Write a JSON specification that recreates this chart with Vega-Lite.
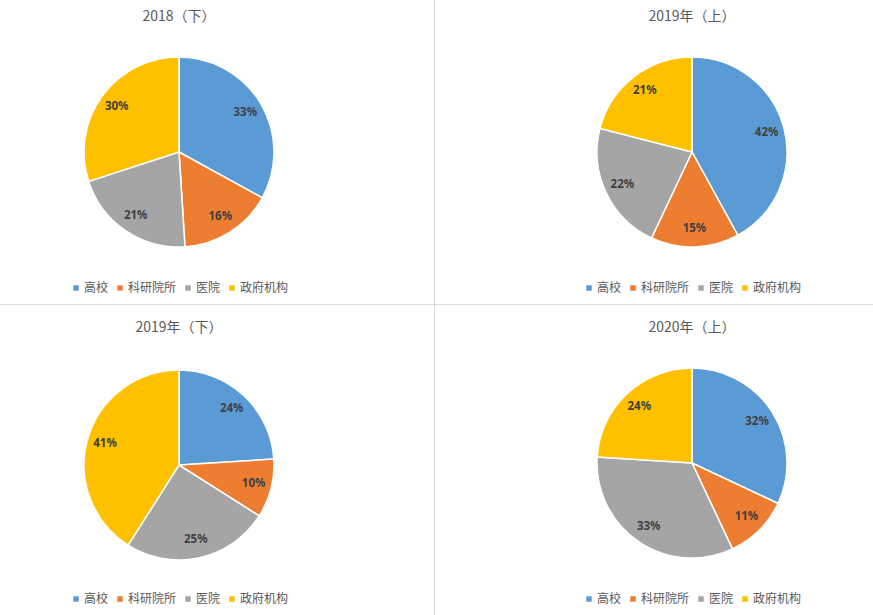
{
  "$schema": "https://vega.github.io/schema/vega-lite/v6.json",
  "padding": 0,
  "background": "#ffffff",
  "datasets": {
    "share": [
      {"期": "2018（下）", "类别": "高校", "序": 1, "占比": 0.33},
      {"期": "2018（下）", "类别": "科研院所", "序": 2, "占比": 0.16},
      {"期": "2018（下）", "类别": "医院", "序": 3, "占比": 0.21},
      {"期": "2018（下）", "类别": "政府机构", "序": 4, "占比": 0.30},
      {"期": "2019年（上）", "类别": "高校", "序": 1, "占比": 0.42},
      {"期": "2019年（上）", "类别": "科研院所", "序": 2, "占比": 0.15},
      {"期": "2019年（上）", "类别": "医院", "序": 3, "占比": 0.22},
      {"期": "2019年（上）", "类别": "政府机构", "序": 4, "占比": 0.21},
      {"期": "2019年（下）", "类别": "高校", "序": 1, "占比": 0.24},
      {"期": "2019年（下）", "类别": "科研院所", "序": 2, "占比": 0.10},
      {"期": "2019年（下）", "类别": "医院", "序": 3, "占比": 0.25},
      {"期": "2019年（下）", "类别": "政府机构", "序": 4, "占比": 0.41},
      {"期": "2020年（上）", "类别": "高校", "序": 1, "占比": 0.32},
      {"期": "2020年（上）", "类别": "科研院所", "序": 2, "占比": 0.11},
      {"期": "2020年（上）", "类别": "医院", "序": 3, "占比": 0.33},
      {"期": "2020年（上）", "类别": "政府机构", "序": 4, "占比": 0.24}
    ],
    "line": [{"分隔": 1}]
  },
  "spacing": 0,
  "resolve": {"legend": {"color": "independent"}, "scale": {"color": "independent"}},
  "vconcat": [
    {
      "hconcat": [
        {
          "width": 358, "height": 304,
          "title": {"text": "2018（下）", "offset": -24},
          "data": {"name": "share"},
          "transform": [{"filter": {"field": "期", "equal": "2018（下）"}}],
          "encoding": {
            "theta": {"field": "占比", "type": "quantitative", "stack": true},
            "order": {"field": "序", "type": "quantitative"},
            "color": {"field": "类别", "type": "nominal", "scale": {"domain": ["高校", "科研院所", "医院", "政府机构"], "range": ["#5B9BD5", "#ED7D31", "#A5A5A5", "#FFC000"]}}
          },
          "layer": [
            {"mark": {"type": "arc", "radius": 95, "stroke": "#ffffff", "strokeWidth": 1.5}},
            {"mark": {"type": "text", "radius": 77, "fontWeight": "bold", "fontSize": 11.5, "font": "Noto Sans", "fill": "#404040"},
             "encoding": {"text": {"field": "占比", "type": "quantitative", "format": ".0%"}, "color": {"value": "#404040"}}}
          ]
        },
        {
          "width": 1, "height": 304,
          "data": {"name": "line"},
          "mark": {"type": "rect", "color": "#D9D9D9"},
          "encoding": {}
        },
        {
          "width": 362, "height": 304,
          "title": {"text": "2019年（上）", "offset": -24},
          "data": {"name": "share"},
          "transform": [{"filter": {"field": "期", "equal": "2019年（上）"}}],
          "encoding": {
            "theta": {"field": "占比", "type": "quantitative", "stack": true},
            "order": {"field": "序", "type": "quantitative"},
            "color": {"field": "类别", "type": "nominal", "scale": {"domain": ["高校", "科研院所", "医院", "政府机构"], "range": ["#5B9BD5", "#ED7D31", "#A5A5A5", "#FFC000"]}}
          },
          "layer": [
            {"mark": {"type": "arc", "radius": 95, "stroke": "#ffffff", "strokeWidth": 1.5}},
            {"mark": {"type": "text", "radius": 77, "fontWeight": "bold", "fontSize": 11.5, "font": "Noto Sans", "fill": "#404040"},
             "encoding": {"text": {"field": "占比", "type": "quantitative", "format": ".0%"}, "color": {"value": "#404040"}}}
          ]
        }
      ],
      "spacing": 76,
      "bounds": "flush",
      "resolve": {"legend": {"color": "independent"}, "scale": {"color": "independent"}}
    },
    {
      "width": 873, "height": 1,
      "data": {"name": "line"},
      "mark": {"type": "rect", "color": "#D9D9D9"},
      "encoding": {}
    },
    {
      "hconcat": [
        {
          "width": 358, "height": 310,
          "title": {"text": "2019年（下）", "offset": -30},
          "data": {"name": "share"},
          "transform": [{"filter": {"field": "期", "equal": "2019年（下）"}}],
          "encoding": {
            "theta": {"field": "占比", "type": "quantitative", "stack": true},
            "order": {"field": "序", "type": "quantitative"},
            "color": {"field": "类别", "type": "nominal", "scale": {"domain": ["高校", "科研院所", "医院", "政府机构"], "range": ["#5B9BD5", "#ED7D31", "#A5A5A5", "#FFC000"]}}
          },
          "layer": [
            {"mark": {"type": "arc", "radius": 95, "stroke": "#ffffff", "strokeWidth": 1.5, "yOffset": 5}},
            {"mark": {"type": "text", "radius": 77, "fontWeight": "bold", "fontSize": 11.5, "font": "Noto Sans", "fill": "#404040", "yOffset": 5},
             "encoding": {"text": {"field": "占比", "type": "quantitative", "format": ".0%"}, "color": {"value": "#404040"}}}
          ]
        },
        {
          "width": 1, "height": 310,
          "data": {"name": "line"},
          "mark": {"type": "rect", "color": "#D9D9D9"},
          "encoding": {}
        },
        {
          "width": 362, "height": 310,
          "title": {"text": "2020年（上）", "offset": -30},
          "data": {"name": "share"},
          "transform": [{"filter": {"field": "期", "equal": "2020年（上）"}}],
          "encoding": {
            "theta": {"field": "占比", "type": "quantitative", "stack": true},
            "order": {"field": "序", "type": "quantitative"},
            "color": {"field": "类别", "type": "nominal", "scale": {"domain": ["高校", "科研院所", "医院", "政府机构"], "range": ["#5B9BD5", "#ED7D31", "#A5A5A5", "#FFC000"]}}
          },
          "layer": [
            {"mark": {"type": "arc", "radius": 95, "stroke": "#ffffff", "strokeWidth": 1.5, "yOffset": 3}},
            {"mark": {"type": "text", "radius": 77, "fontWeight": "bold", "fontSize": 11.5, "font": "Noto Sans", "fill": "#404040", "yOffset": 3},
             "encoding": {"text": {"field": "占比", "type": "quantitative", "format": ".0%"}, "color": {"value": "#404040"}}}
          ]
        }
      ],
      "spacing": 76,
      "bounds": "flush",
      "resolve": {"legend": {"color": "independent"}, "scale": {"color": "independent"}}
    }
  ],
  "config": {
    "view": {"stroke": null},
    "title": {"fontSize": 14, "fontWeight": "normal", "color": "#595959", "font": "Noto Sans CJK SC", "anchor": "middle", "offset": -22},
    "legend": {
      "orient": "bottom", "direction": "horizontal", "title": null,
      "symbolType": "square", "symbolSize": 30, "symbolStrokeWidth": 0,
      "labelFontSize": 12, "labelColor": "#595959", "labelFont": "Noto Sans CJK SC",
      "columnPadding": 5, "labelOffset": 2, "offset": -22,
      "layout": {"bottom": {"anchor": "middle"}}
    }
  }
}
